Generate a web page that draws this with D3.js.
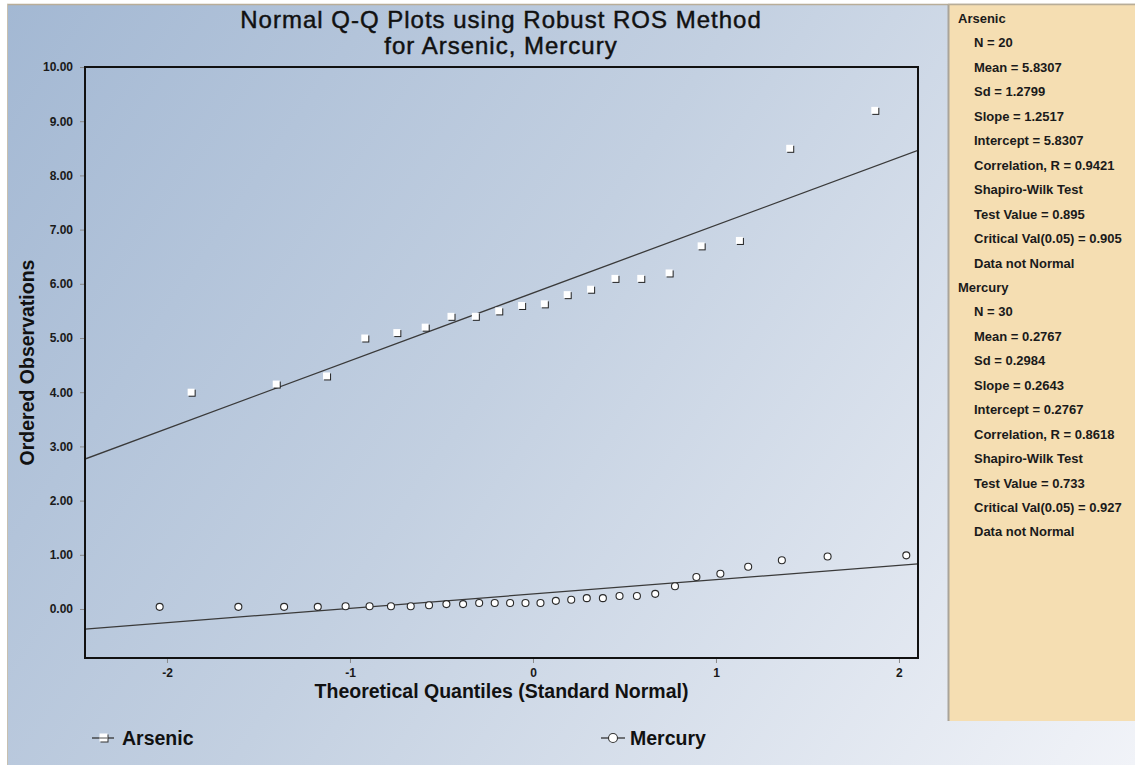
<!DOCTYPE html>
<html><head><meta charset="utf-8">
<script src="https://cdn.jsdelivr.net/npm/d3@7"></script>
<style>
html,body{margin:0;padding:0;background:#fff;}
svg{display:block;font-family:"Liberation Sans",Arial,sans-serif;}
</style></head>
<body>
<svg id="chart" width="1135" height="765"></svg>
<script>
// ---- data ----
const titleLines = ["Normal Q-Q Plots using Robust ROS Method", "for Arsenic, Mercury"];
const xTicks = [-2, -1, 0, 1, 2];
const yTicks = [0, 1, 2, 3, 4, 5, 6, 7, 8, 9, 10];
const seriesNames = ["Arsenic", "Mercury"];
const arsenicQ = [-1.868, -1.403, -1.128, -0.919, -0.744, -0.589, -0.448, -0.315, -0.187, -0.062,
                  0.062, 0.187, 0.315, 0.448, 0.589, 0.744, 0.919, 1.128, 1.403, 1.868];
const arsenicObs = [4.0, 4.15, 4.3, 5.0, 5.1, 5.2, 5.4, 5.4, 5.5, 5.6,
                    5.63, 5.8, 5.9, 6.1, 6.1, 6.2, 6.7, 6.8, 8.5, 9.2];
const mercuryQ = [-2.04, -1.61, -1.36, -1.176, -1.024, -0.893, -0.776, -0.668, -0.568, -0.473,
                  -0.382, -0.294, -0.209, -0.125, -0.041, 0.041, 0.125, 0.209, 0.294, 0.382,
                  0.473, 0.568, 0.668, 0.776, 0.893, 1.024, 1.176, 1.36, 1.61, 2.04];
const mercuryObs = [0.04, 0.04, 0.04, 0.04, 0.05, 0.05, 0.05, 0.05, 0.07, 0.09,
                    0.09, 0.11, 0.11, 0.11, 0.11, 0.11, 0.15, 0.17, 0.2, 0.2,
                    0.24, 0.24, 0.28, 0.42, 0.59, 0.65, 0.78, 0.9, 0.97, 0.99];
const slopes = [1.2517, 0.2643];
const intercepts = [5.8307, 0.2767];
const arsenicStats = ["N = 20", "Mean = 5.8307", "Sd = 1.2799", "Slope = 1.2517", "Intercept = 5.8307",
  "Correlation, R = 0.9421", "Shapiro-Wilk Test", "Test Value = 0.895", "Critical Val(0.05) = 0.905", "Data not Normal"];
const mercuryStats = ["N = 30", "Mean = 0.2767", "Sd = 0.2984", "Slope = 0.2643", "Intercept = 0.2767",
  "Correlation, R = 0.8618", "Shapiro-Wilk Test", "Test Value = 0.733", "Critical Val(0.05) = 0.927", "Data not Normal"];
const xLabel = "Theoretical Quantiles (Standard Normal)";
const yLabel = "Ordered Observations";

// ---- layout ----
const svg = d3.select("#chart");
const P = {l: 85, r: 918, t: 67, b: 658};
const x = d3.scaleLinear().domain([-2.448, 2.104]).range([P.l, P.r]);
const y = d3.scaleLinear().domain([-0.904, 10]).range([P.b, P.t]);

const defs = svg.append("defs");
const g = defs.append("linearGradient").attr("id", "bg").attr("gradientUnits", "userSpaceOnUse")
  .attr("x1", 7).attr("y1", 4).attr("x2", 1135).attr("y2", 765);
g.append("stop").attr("offset", 0).attr("stop-color", "#a3b8d3");
g.append("stop").attr("offset", 0.45).attr("stop-color", "#c3d0e1");
g.append("stop").attr("offset", 1).attr("stop-color", "#f1f3f8");
defs.append("clipPath").attr("id", "clip").append("rect")
  .attr("x", P.l).attr("y", P.t).attr("width", P.r - P.l).attr("height", P.b - P.t);

svg.append("rect").attr("x", 7).attr("y", 4).attr("width", 1128).attr("height", 761).attr("fill", "url(#bg)");
svg.append("line").attr("x1", 7).attr("x2", 1135).attr("y1", 4.5).attr("y2", 4.5).attr("stroke", "#b8ad98").attr("stroke-width", 1.5);
svg.append("line").attr("x1", 7.5).attr("x2", 7.5).attr("y1", 4).attr("y2", 765).attr("stroke", "#c8c0b0").attr("stroke-width", 1);

// title
svg.append("g").selectAll("text").data(titleLines).join("text")
  .attr("x", 501).attr("y", (d, i) => 28 + i * 26)
  .attr("text-anchor", "middle").attr("font-size", 24).attr("letter-spacing", 1)
  .attr("fill", "#111").attr("stroke", "#111").attr("stroke-width", 0.45).text(d => d);

// axes
const fmtX = d => String(d).replace("\u2212", "-");
const xAxis = svg.append("g").attr("transform", `translate(0,${P.b})`)
  .call(d3.axisBottom(x).tickValues(xTicks).tickSize(5).tickPadding(5).tickFormat(fmtX));
const yAxis = svg.append("g").attr("transform", `translate(${P.l},0)`)
  .call(d3.axisLeft(y).tickValues(yTicks).tickSize(5).tickPadding(7).tickFormat(d => d.toFixed(2)));
[xAxis, yAxis].forEach(a => {
  a.select(".domain").remove();
  a.selectAll(".tick line").attr("stroke", "#8a8a8a");
  a.selectAll(".tick text").attr("font-family", "'Liberation Sans',Arial,sans-serif")
    .attr("font-size", 12).attr("font-weight", "bold").attr("fill", "#1a1a1a");
});

// axis titles
svg.append("text").attr("x", (P.l + P.r) / 2).attr("y", 698).attr("text-anchor", "middle")
  .attr("font-size", 19.5).attr("font-weight", "bold").attr("fill", "#111").text(xLabel);
svg.append("text").attr("transform", `translate(34,${(P.t + P.b) / 2}) rotate(-90)`).attr("text-anchor", "middle")
  .attr("font-size", 19.5).attr("font-weight", "bold").attr("fill", "#111").text(yLabel);

// regression lines
const plot = svg.append("g").attr("clip-path", "url(#clip)");
const dom = x.domain();
slopes.forEach((s, i) => {
  const pts = dom.map(q => [x(q), y(intercepts[i] + s * q)]);
  plot.append("path").attr("d", d3.line()(pts)).attr("fill", "none")
    .attr("stroke", "#3a3a3a").attr("stroke-width", 1.3);
});

// Arsenic markers (squares)
const ars = arsenicQ.map((q, i) => ({q, v: arsenicObs[i]}));
const sq = plot.append("g").selectAll("g").data(ars).join("g")
  .attr("transform", d => `translate(${x(d.q)},${y(d.v)})`);
sq.append("rect").attr("x", -2.5).attr("y", -2.5).attr("width", 7).attr("height", 7).attr("fill", "#222");
sq.append("rect").attr("x", -3.5).attr("y", -3.5).attr("width", 7).attr("height", 7).attr("fill", "#fff");

// Mercury markers (circles)
const mer = mercuryQ.map((q, i) => ({q, v: mercuryObs[i]}));
plot.append("g").selectAll("circle").data(mer).join("circle")
  .attr("cx", d => x(d.q)).attr("cy", d => y(d.v)).attr("r", 3.5)
  .attr("fill", "#fff").attr("stroke", "#2a2a2a").attr("stroke-width", 1.1);

// frame
svg.append("rect").attr("x", P.l).attr("y", P.t).attr("width", P.r - P.l).attr("height", P.b - P.t)
  .attr("fill", "none").attr("stroke", "#111").attr("stroke-width", 2);

// legend
const leg = svg.append("g");
leg.append("line").attr("x1", 92).attr("x2", 114).attr("y1", 738).attr("y2", 738).attr("stroke", "#333").attr("stroke-width", 1.3);
leg.append("rect").attr("x", 100.5).attr("y", 734.5).attr("width", 8).attr("height", 8).attr("fill", "#333");
leg.append("rect").attr("x", 99.5).attr("y", 733.5).attr("width", 8).attr("height", 8).attr("fill", "#fff");
leg.append("line").attr("x1", 99.5).attr("x2", 107.5).attr("y1", 738).attr("y2", 738).attr("stroke", "#555").attr("stroke-width", 1);
leg.append("text").attr("x", 122).attr("y", 745).attr("font-size", 19.5).attr("font-weight", "bold").attr("fill", "#111").text(seriesNames[0]);
leg.append("line").attr("x1", 601).attr("x2", 625).attr("y1", 738).attr("y2", 738).attr("stroke", "#333").attr("stroke-width", 1.3);
leg.append("circle").attr("cx", 613).attr("cy", 738).attr("r", 4.5).attr("fill", "#fff").attr("stroke", "#333").attr("stroke-width", 1.1);
leg.append("text").attr("x", 630).attr("y", 745).attr("font-size", 19.5).attr("font-weight", "bold").attr("fill", "#111").text(seriesNames[1]);

// stats panel
svg.append("rect").attr("x", 948).attr("y", 4).attr("width", 187).attr("height", 717).attr("fill", "#f5deb2");
svg.append("line").attr("x1", 948.5).attr("x2", 948.5).attr("y1", 4).attr("y2", 721).attr("stroke", "#a9a49a").attr("stroke-width", 2);
svg.append("line").attr("x1", 948).attr("x2", 1135).attr("y1", 4.5).attr("y2", 4.5).attr("stroke", "#b8ad98").attr("stroke-width", 1.5);
const rows = [];
[arsenicStats, mercuryStats].forEach((arr, k) => {
  rows.push({t: seriesNames[k], h: true});
  arr.forEach(s => rows.push({t: s, h: false}));
});
svg.append("g").selectAll("text").data(rows).join("text")
  .attr("x", d => d.h ? 958 : 974).attr("y", (d, i) => 23 + i * 24.45)
  .attr("font-size", 13).attr("font-weight", "bold").attr("fill", "#1a1a1a").text(d => d.t);
</script>
</body></html>
